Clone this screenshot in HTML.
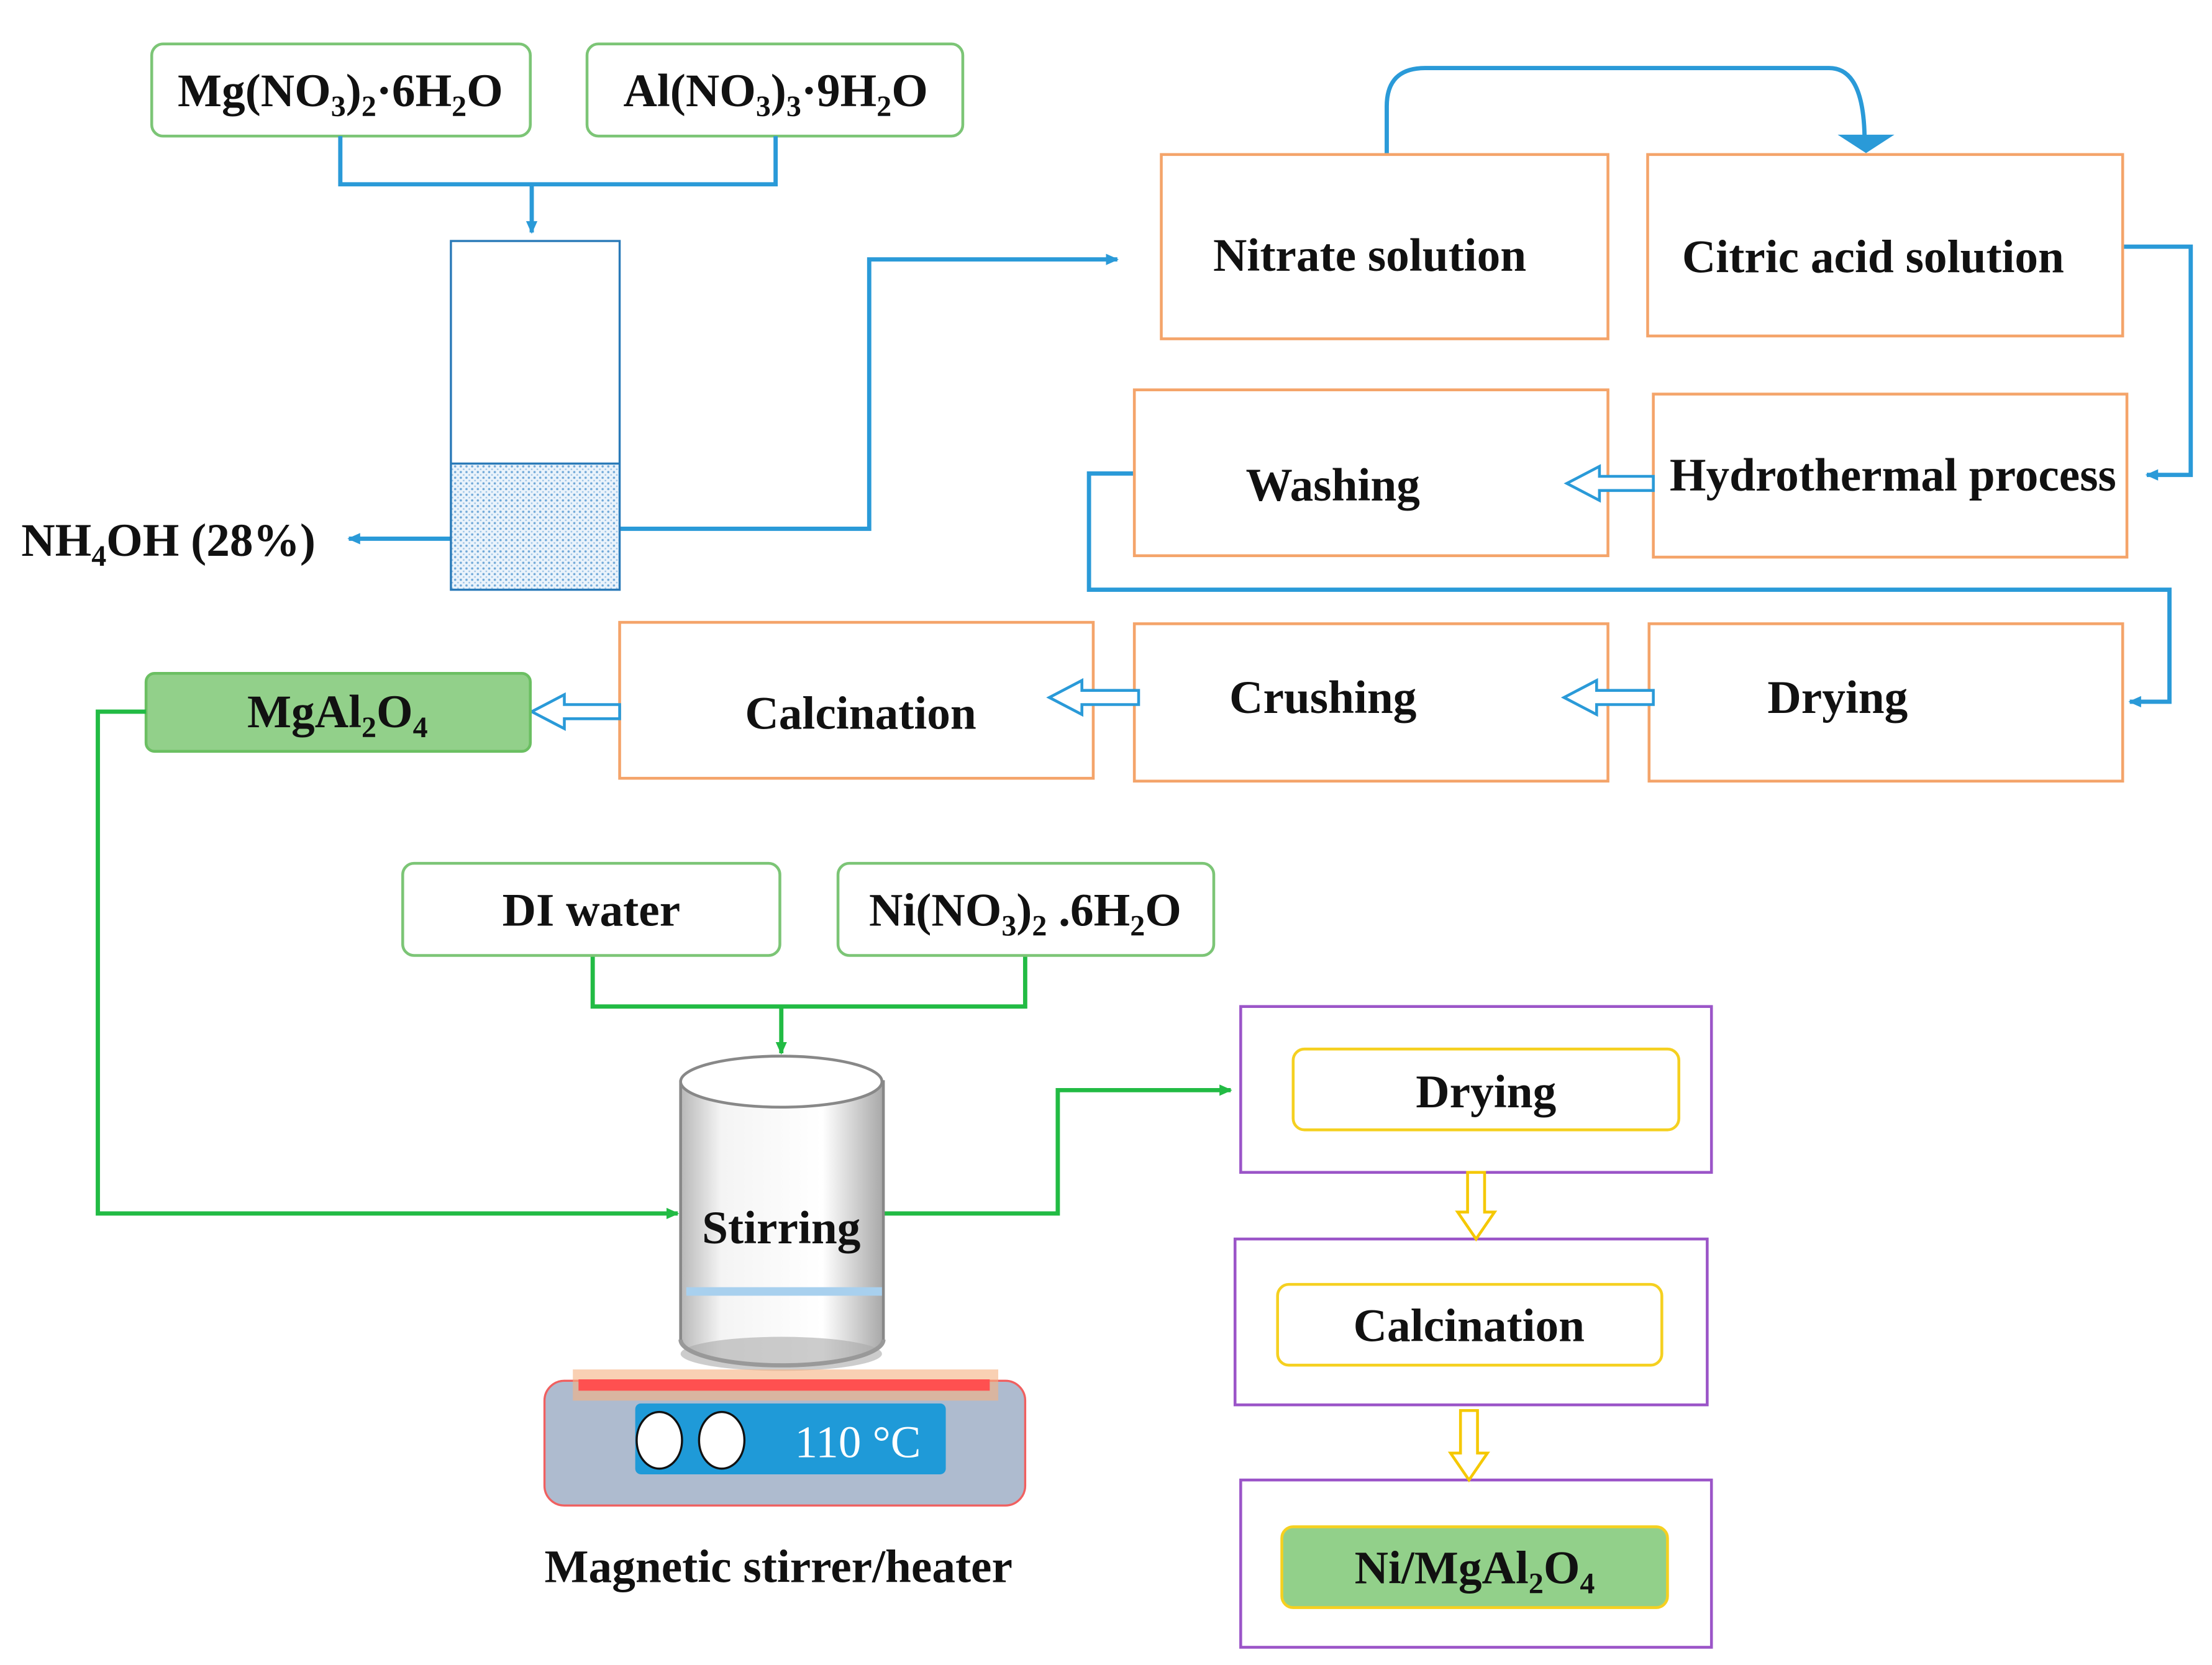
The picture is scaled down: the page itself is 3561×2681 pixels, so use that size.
<!DOCTYPE html>
<html><head><meta charset="utf-8"><style>
html,body{margin:0;padding:0;background:#fff;}
svg{display:block;}
text{font-family:"Liberation Serif",serif;font-weight:bold;fill:#111;}
</style></head><body>
<svg width="3561" height="2681" viewBox="0 0 1560 1174.5" preserveAspectRatio="none" xmlns="http://www.w3.org/2000/svg">
<defs>
<pattern id="dots" width="4" height="4" patternUnits="userSpaceOnUse">
<rect width="4" height="4" fill="#eaf3fb"/><circle cx="1" cy="1" r="0.8" fill="#6fa8d8"/><circle cx="3" cy="3" r="0.6" fill="#9cc3e6"/>
</pattern>
<linearGradient id="cyl" x1="0" x2="1" y1="0" y2="0">
<stop offset="0" stop-color="#b8b8b8"/><stop offset="0.2" stop-color="#f4f4f4"/><stop offset="0.7" stop-color="#fff"/><stop offset="1" stop-color="#a8a8a8"/>
</linearGradient>
<marker id="ab" markerWidth="10" markerHeight="10" refX="8" refY="5" orient="auto" markerUnits="userSpaceOnUse"><path d="M0,1 L9,5 L0,9 Z" fill="#2a9ad8"/></marker>
<marker id="ag" markerWidth="10" markerHeight="10" refX="8" refY="5" orient="auto" markerUnits="userSpaceOnUse"><path d="M0,1 L9,5 L0,9 Z" fill="#22bb44"/></marker>
</defs>
<g font-size="33">
<rect x="107" y="31" width="267" height="65" rx="8" fill="#fff" stroke="#7cc576" stroke-width="2"/>
<text x="240" y="75" text-anchor="middle">Mg(NO<tspan font-size="21" dy="7">3</tspan><tspan dy="-7">)</tspan><tspan font-size="21" dy="7">2</tspan><tspan dy="-7">·6H</tspan><tspan font-size="21" dy="7">2</tspan><tspan dy="-7">O</tspan></text>
<rect x="414" y="31" width="265" height="65" rx="8" fill="#fff" stroke="#7cc576" stroke-width="2"/>
<text x="547" y="75" text-anchor="middle">Al(NO<tspan font-size="21" dy="7">3</tspan><tspan dy="-7">)</tspan><tspan font-size="21" dy="7">3</tspan><tspan dy="-7">·9H</tspan><tspan font-size="21" dy="7">2</tspan><tspan dy="-7">O</tspan></text>
<g fill="none" stroke="#2a9ad8" stroke-width="3">
<path d="M240,96 V130 H547 V96"/>
<path d="M375,130 V164" marker-end="url(#ab)"/>
<path d="M318,380 H246" marker-end="url(#ab)"/>
<path d="M437,373 H613 V183 H788" marker-end="url(#ab)"/>
<path d="M978,130 V75 Q978,48 1005,48 H1290 Q1315,48 1315,100" />
<path d="M1493,174 H1545 V335 H1514" marker-end="url(#ab)"/>
<path d="M800,334 H768 V416 H1530 V495 H1502" marker-end="url(#ab)"/>
</g>
<path d="M1296,95 L1336,95 L1316,108 Z" fill="#2a9ad8"/>
<rect x="318" y="327" width="119" height="89" fill="url(#dots)"/>
<rect x="318" y="170" width="119" height="246" fill="none" stroke="#2a7ab8" stroke-width="1.5"/>
<line x1="318" y1="327" x2="437" y2="327" stroke="#2a7ab8" stroke-width="1.5"/>
<text x="15" y="392">NH<tspan font-size="21" dy="7">4</tspan><tspan dy="-7">OH (28%)</tspan></text>
<g fill="#fff" stroke="#f4a46a" stroke-width="2">
<rect x="819" y="109" width="315" height="130"/>
<rect x="1162" y="109" width="335" height="128"/>
<rect x="800" y="275" width="334" height="117"/>
<rect x="1166" y="278" width="334" height="115"/>
<rect x="1163" y="440" width="334" height="111"/>
<rect x="800" y="440" width="334" height="111"/>
<rect x="437" y="439" width="334" height="110"/>
</g>
<text x="966" y="191" text-anchor="middle">Nitrate solution</text>
<text x="1321" y="192" text-anchor="middle">Citric acid solution</text>
<text x="940" y="353" text-anchor="middle">Washing</text>
<text x="1335" y="346" text-anchor="middle">Hydrothermal process</text>
<text x="1296" y="503" text-anchor="middle">Drying</text>
<text x="933" y="503" text-anchor="middle">Crushing</text>
<text x="607" y="514" text-anchor="middle">Calcination</text>
<g fill="#fff" stroke="#2a9ad8" stroke-width="2">
<path d="M1166,336 H1128 V329 L1105,341 L1128,353 V346 H1166 Z"/>
<path d="M1166,487 H1126 V480 L1103,492 L1126,504 V497 H1166 Z"/>
<path d="M803,487 H763 V480 L740,492 L763,504 V497 H803 Z"/>
<path d="M437,497 H398 V490 L375,502 L398,514 V507 H437 Z"/>
</g>
<rect x="103" y="475" width="271" height="55" rx="6" fill="#92d08a" stroke="#6bbf62" stroke-width="2"/>
<text x="238" y="513" text-anchor="middle">MgAl<tspan font-size="21" dy="7">2</tspan><tspan dy="-7">O</tspan><tspan font-size="21" dy="7">4</tspan></text>
<g fill="none" stroke="#22bb44" stroke-width="3">
<path d="M103,502 H69 V856 H478" marker-end="url(#ag)"/>
<path d="M418,674 V710 H723 V674"/>
<path d="M551,710 V743" marker-end="url(#ag)"/>
<path d="M623,856 H746 V769 H868" marker-end="url(#ag)"/>
</g>
<rect x="284" y="609" width="266" height="65" rx="8" fill="#fff" stroke="#7cc576" stroke-width="2"/>
<text x="417" y="653" text-anchor="middle">DI water</text>
<rect x="591" y="609" width="265" height="65" rx="8" fill="#fff" stroke="#7cc576" stroke-width="2"/>
<text x="723" y="653" text-anchor="middle">Ni(NO<tspan font-size="21" dy="7">3</tspan><tspan dy="-7">)</tspan><tspan font-size="21" dy="7">2</tspan><tspan dy="-7"> .6H</tspan><tspan font-size="21" dy="7">2</tspan><tspan dy="-7">O</tspan></text>
<path d="M480,763 V945 A71,18 0 0 0 623,945 V763 Z" fill="url(#cyl)" stroke="#888" stroke-width="2"/>
<ellipse cx="551" cy="955" rx="71" ry="12" fill="#aaa" opacity="0.6"/>
<path d="M480,945 A71,18 0 0 0 623,945" fill="none" stroke="#999" stroke-width="3"/>
<ellipse cx="551" cy="763" rx="71" ry="18" fill="#fff" stroke="#888" stroke-width="2"/>
<rect x="484" y="908" width="138" height="6" fill="#a8d0ee"/>
<text x="551" y="877" text-anchor="middle">Stirring</text>
<rect x="384" y="974" width="339" height="88" rx="14" fill="#aebbcf" stroke="#f06060" stroke-width="1.5"/>
<rect x="404" y="966" width="300" height="22" fill="#f5b080" opacity="0.6"/>
<rect x="408" y="973" width="290" height="8" fill="#ff5050"/>
<rect x="448" y="990" width="219" height="50" rx="4" fill="#1f9ad8"/>
<ellipse cx="465" cy="1016" rx="16" ry="20" fill="#fff" stroke="#111" stroke-width="1.5"/>
<ellipse cx="509" cy="1016" rx="16" ry="20" fill="#fff" stroke="#111" stroke-width="1.5"/>
<text x="605" y="1028" text-anchor="middle" style="fill:#fff;font-weight:normal" font-size="32">110 °C</text>
<text x="549" y="1116" text-anchor="middle">Magnetic stirrer/heater</text>
<g fill="#fff" stroke="#9b55c8" stroke-width="2">
<rect x="875" y="710" width="332" height="117"/>
<rect x="871" y="874" width="333" height="117"/>
<rect x="875" y="1044" width="332" height="118"/>
</g>
<rect x="912" y="740" width="272" height="57" rx="8" fill="#fff" stroke="#f5d020" stroke-width="2"/>
<text x="1048" y="781" text-anchor="middle">Drying</text>
<rect x="901" y="906" width="271" height="57" rx="8" fill="#fff" stroke="#f5d020" stroke-width="2"/>
<text x="1036" y="946" text-anchor="middle">Calcination</text>
<rect x="904" y="1077" width="272" height="57" rx="8" fill="#92d08a" stroke="#f5d020" stroke-width="2"/>
<text x="1040" y="1117" text-anchor="middle">Ni/MgAl<tspan font-size="21" dy="7">2</tspan><tspan dy="-7">O</tspan><tspan font-size="21" dy="7">4</tspan></text>
<g fill="#fff" stroke="#f5c800" stroke-width="2">
<path d="M1035,827 V855 H1028 L1041,874 L1054,855 H1047 V827 Z"/>
<path d="M1030,995 V1025 H1023 L1036,1044 L1049,1025 H1042 V995 Z"/>
</g>
</g>
</svg>
</body></html>
